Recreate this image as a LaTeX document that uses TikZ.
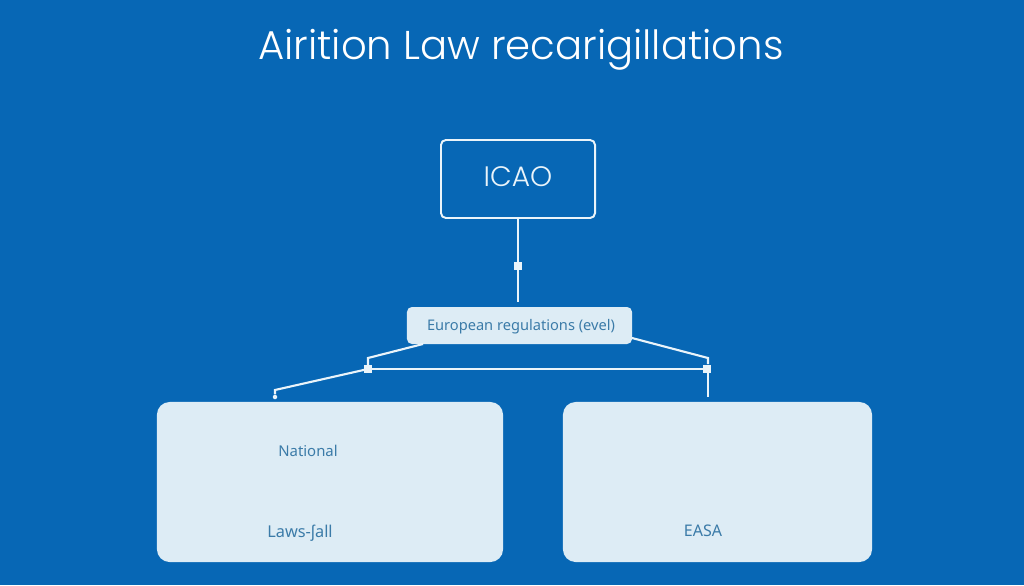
\documentclass[tikz,border=0pt]{standalone}
\usepackage{fontspec}
\setmainfont{Poppins Light}
\newfontfamily\labelfont{Noto Sans}
\usetikzlibrary{positioning}
\definecolor{lawblue}{HTML}{0767B5}
\definecolor{lawpale}{HTML}{DDECF5}
\definecolor{lawink}{HTML}{3B7BA8}
\definecolor{lawline}{HTML}{EAF4FA}
\tikzset{
    panel/.style={fill=lawpale,rounded corners=5.5pt,inner sep=0pt},
    panellabel/.style={text=lawink,font=\labelfont\fontsize{10.6pt}{12pt}\selectfont,inner sep=0pt},
    link/.style={draw=lawline,line width=1.5pt},
    joint/.style={fill=lawline,inner sep=0pt,minimum size=5pt}
}
\begin{document}
\begin{tikzpicture}[x=0.025cm,y=-0.025cm]
    \useasboundingbox (0,0) rectangle (1024,585);
    \fill[lawblue] (0,0) rectangle (1024,585);
    \node[text=white,font=\fontsize{28.6pt}{32pt}\selectfont,inner sep=0pt] (title) at (521,50) {Airition Law recarigillations};
    % boxes
    \node[draw=lawline,line width=1.4pt,rounded corners=3.5pt,minimum width=3.85cm,minimum height=1.95cm,inner sep=0pt] (icao) at (518,179) {};
    \node[text=lawline,font=\fontsize{20pt}{24pt}\selectfont,inner sep=0pt] (icaotext) at (518,177) {ICAO};
    \node[panel,rounded corners=3.5pt,minimum width=5.625cm,minimum height=0.925cm] (euro) at (519.5,325.5) {};
    \node[panellabel,font=\labelfont\fontsize{10.4pt}{12pt}\selectfont] (eurotext) at (521,327) {European regulations (evel)};
    \node[panel,rounded corners=9pt,minimum width=8.65cm,minimum height=4cm] (national) at (330,482) {};
    \node[panel,rounded corners=9pt,minimum width=7.725cm,minimum height=4cm] (easa) at (717.5,482) {};
    \node[panellabel] (nationaltext) at (308,451) {National};
    \node[panellabel,font=\labelfont\fontsize{11.6pt}{12pt}\selectfont] (lawstext) at (300,533) {Laws-ʃall};
    \node[panellabel,font=\labelfont\fontsize{11.4pt}{12pt}\selectfont] (easatext) at (703,531) {EASA};
    % joints
    \node[joint] (midjoint) at (518,266) {};
    \node[joint] (leftjoint) at (368,369) {};
    \node[joint] (rightjoint) at (707,369) {};
    \node[fill=lawline,circle,inner sep=0pt,minimum size=3.2pt] (leftend) at (275,397) {};
    % free ends
    \coordinate (icaoend) at (518,302);
    \coordinate (euroleft) at (423,344);
    \coordinate (euroright) at (632,338);
    \coordinate (rightend) at (708,397);
    % connectors
    \draw[link] (icao) -- (midjoint) -- (icaoend);
    \draw[link] (euroleft) -- (368,358) -- (leftjoint.north);
    \draw[link] (euroright) -- (708,358) -- (708,364);
    \draw[link] (leftjoint) -- (rightjoint);
    \draw[link] (rightjoint.center -| rightend) -- (rightend);
    \draw[link] (leftjoint.center) -- (275,390) -- (leftend);
\end{tikzpicture}
\end{document}
